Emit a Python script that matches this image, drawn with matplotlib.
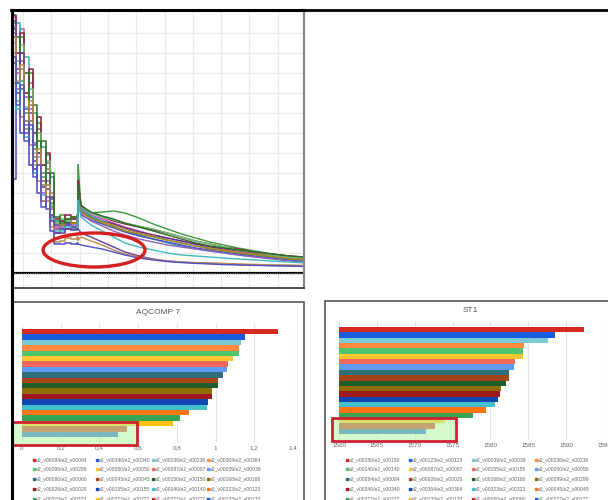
import matplotlib
matplotlib.use("Agg")
import matplotlib.pyplot as plt
from matplotlib.patches import Rectangle, Ellipse
from matplotlib.lines import Line2D

W, H = 608, 500

# ---- top panel: step / decay curves (grid units) ----
x_early = [-0.35, -0.25, -0.1, 0.05, 0.2, 0.35, 0.5, 0.65, 0.8, 0.95, 1.1, 1.3, 1.5, 1.7, 1.9]
x_late = [1.95, 2.05, 2.4, 2.8, 3.2, 3.6, 4.1, 4.6, 5.1, 5.6, 6.1, 6.6, 7.1, 7.6, 8.2, 8.8, 9.4, 9.96]

curve_colors = ['#3c9a3c', '#c050b0', '#5a2a8a', '#3aa8a0', '#c0803a', '#4a4ac0', '#8a2040',
                '#8a8a30', '#70c070', '#9060c0', '#2a6a2a', '#40b8c0', '#6a3a9a', '#c08a50', '#5050c8']
curves_early = [
    [12.5, 9.5, 11.8, 8.0, 10.0, 6.2, 7.5, 5.0, 5.9, 3.5, 2.6, 2.9, 2.5, 2.8, 2.6],
    [12.8, 10.0, 12.2, 8.8, 9.5, 6.5, 7.2, 4.6, 5.5, 3.2, 2.3, 2.6, 2.4, 2.7, 2.5],
    [12.2, 9.0, 11.0, 7.6, 8.8, 5.6, 6.6, 4.3, 5.0, 2.9, 2.4, 2.2, 2.5, 2.3, 2.6],
    [11.8, 12.5, 9.6, 10.8, 7.2, 8.0, 5.4, 6.3, 4.2, 4.8, 2.6, 2.4, 2.7, 2.5, 2.6],
    [9.5, 11.0, 7.8, 9.0, 6.4, 7.0, 4.6, 5.4, 3.6, 4.0, 2.2, 2.4, 2.2, 2.5, 2.3],
    [4.7, 9.5, 7.0, 8.2, 5.4, 6.4, 4.0, 4.8, 3.2, 3.7, 2.0, 2.2, 2.4, 2.2, 2.3],
    [12.9, 11.0, 12.0, 9.0, 10.2, 7.0, 7.8, 5.4, 6.0, 3.8, 2.7, 2.6, 2.9, 2.7, 2.8],
    [11.0, 8.6, 10.2, 7.2, 8.4, 5.8, 6.6, 4.4, 5.2, 3.3, 2.5, 2.4, 2.6, 2.5, 2.6],
    [12.3, 10.6, 11.4, 8.3, 9.2, 6.0, 7.0, 4.8, 5.6, 3.4, 2.5, 2.7, 2.6, 2.8, 2.7],
    [12.0, 9.2, 10.6, 7.4, 8.2, 5.2, 6.0, 4.0, 4.6, 2.8, 2.2, 2.3, 2.2, 2.4, 2.4],
    [10.5, 11.8, 9.2, 10.0, 7.6, 8.4, 6.0, 6.6, 4.4, 5.0, 2.8, 2.5, 2.7, 2.8, 2.9],
    [11.5, 8.2, 9.6, 6.8, 7.6, 5.0, 5.8, 3.9, 4.4, 2.7, 2.1, 2.1, 2.3, 2.2, 2.3],
    [12.6, 10.2, 11.0, 7.0, 8.0, 5.2, 6.0, 3.6, 4.2, 2.6, 2.0, 2.0, 2.2, 2.15, 2.2],
    [11.8, 9.6, 10.4, 7.6, 8.6, 5.4, 6.2, 3.6, 4.4, 2.3, 1.55, 1.6, 1.75, 1.7, 1.8],
    [10.8, 8.4, 9.4, 6.6, 7.4, 4.8, 5.4, 3.3, 3.8, 2.1, 1.45, 1.45, 1.5, 1.45, 1.5],
]
curves_late = [
    [5.4, 3.2, 3.0, 3.05, 3.1, 3.0, 2.75, 2.45, 2.2, 1.95, 1.75, 1.55, 1.4, 1.25, 1.1, 0.95, 0.85, 0.75],
    [4.5, 3.3, 2.9, 2.7, 2.5, 2.3, 2.1, 1.9, 1.75, 1.6, 1.45, 1.3, 1.2, 1.1, 1.0, 0.9, 0.8, 0.7],
    [4.0, 3.1, 2.8, 2.6, 2.45, 2.25, 2.05, 1.9, 1.75, 1.6, 1.45, 1.3, 1.2, 1.05, 0.95, 0.85, 0.75, 0.65],
    [4.2, 3.2, 2.85, 2.6, 2.35, 2.1, 1.9, 1.7, 1.5, 1.35, 1.2, 1.1, 1.0, 0.9, 0.8, 0.75, 0.65, 0.6],
    [3.9, 3.0, 2.75, 2.55, 2.4, 2.2, 2.0, 1.85, 1.65, 1.5, 1.35, 1.25, 1.15, 1.05, 0.95, 0.85, 0.75, 0.7],
    [3.7, 2.9, 2.65, 2.45, 2.25, 2.05, 1.85, 1.7, 1.55, 1.4, 1.25, 1.15, 1.05, 0.95, 0.85, 0.75, 0.65, 0.55],
    [4.6, 3.4, 3.0, 2.8, 2.6, 2.45, 2.3, 2.15, 2.0, 1.8, 1.6, 1.45, 1.3, 1.2, 1.05, 0.95, 0.85, 0.8],
    [4.1, 3.1, 2.75, 2.5, 2.3, 2.1, 1.95, 1.8, 1.65, 1.5, 1.35, 1.2, 1.1, 1.0, 0.9, 0.8, 0.7, 0.65],
    [4.3, 3.3, 3.0, 2.8, 2.65, 2.5, 2.35, 2.2, 2.0, 1.8, 1.6, 1.45, 1.3, 1.15, 1.05, 0.9, 0.8, 0.75],
    [3.8, 2.95, 2.6, 2.35, 2.1, 1.9, 1.7, 1.55, 1.4, 1.3, 1.2, 1.1, 1.0, 0.9, 0.8, 0.7, 0.6, 0.55],
    [4.4, 3.35, 3.05, 2.85, 2.7, 2.5, 2.3, 2.1, 1.9, 1.7, 1.5, 1.35, 1.25, 1.15, 1.05, 0.95, 0.85, 0.8],
    [3.6, 2.8, 2.4, 2.1, 1.8, 1.5, 1.3, 1.15, 1.0, 0.9, 0.85, 0.8, 0.75, 0.7, 0.65, 0.6, 0.55, 0.5],
    [2.2, 2.0, 1.8, 1.55, 1.3, 1.05, 0.85, 0.7, 0.6, 0.55, 0.5, 0.48, 0.45, 0.43, 0.4, 0.38, 0.36, 0.35],
    [1.65, 1.8, 1.6, 1.4, 1.15, 0.95, 0.8, 0.68, 0.6, 0.55, 0.52, 0.5, 0.48, 0.45, 0.43, 0.41, 0.4, 0.38],
    [1.45, 1.4, 1.3, 1.2, 1.05, 0.9, 0.75, 0.65, 0.57, 0.52, 0.48, 0.45, 0.42, 0.4, 0.38, 0.36, 0.35, 0.33],
]

# ---- bar panels ----
bar_colors = ['#d42a20', '#1a5ce0', '#7ccbd4', '#ff8a3d', '#4fc46c', '#ffc630', '#f0685c', '#5d9cf2',
              '#2e6e7c', '#a5461a', '#1f5e2a', '#8e6e00', '#a0191c', '#1346b0', '#45bfcc', '#ff7413',
              '#36a453', '#ffc208', '#d42a20', '#1a5ce0']

aq_values = [1.32, 1.15, 1.13, 1.12, 1.12, 1.09, 1.065, 1.06, 1.037, 1.012, 1.012, 0.983, 0.983,
             0.962, 0.954, 0.864, 0.816, 0.782, 0.541, 0.497]
aq_labels = ['e2_v00084/e2_v00084', 'e2_v00340/e2_v00340', 'e2_v00236/e2_v00236', 'e2_v00364/e2_v00364',
             'e2_v00299/e2_v00299', 'e2_v00050/e2_v00050', 'e2_v00087/e2_v00087', 'e2_v00039/e2_v00039',
             'e2_v00060/e2_v00060', 'e2_v00045/e2_v00045', 'e2_v00150/e2_v00150', 'e2_v00168/e2_v00168',
             'e2_v00026/e2_v00026', 'e2_v00155/e2_v00155', 'e2_v00140/e2_v00140', 'e2_v00123/e2_v00123',
             'e2_v00323/e2_v00323', 'e2_v00272/e2_v00272', 'e2_v00277/e2_v00277', 'e2_v00133/e2_v00133']
aq_ticks = [0, 0.2, 0.4, 0.6, 0.8, 1.0, 1.2, 1.4]
aq_ticklabels = ['0', '0,2', '0,4', '0,6', '0,8', '1', '1,2', '1,4']

st_values = [1592.3, 1588.5, 1587.6, 1584.4, 1584.25, 1584.25, 1583.2, 1583.05, 1582.4, 1582.4,
             1582.1, 1581.4, 1581.2, 1580.95, 1580.6, 1579.45, 1577.7, 1573.95, 1572.7, 1571.5]
st_labels = ['e2_v00150/e2_v00150', 'e2_v00123/e2_v00123', 'e2_v00039/e2_v00039', 'e2_v00236/e2_v00236',
             'e2_v00140/e2_v00140', 'e2_v00087/e2_v00087', 'e2_v00155/e2_v00155', 'e2_v00050/e2_v00050',
             'e2_v00084/e2_v00084', 'e2_v00026/e2_v00026', 'e2_v00168/e2_v00168', 'e2_v00299/e2_v00299',
             'e2_v00340/e2_v00340', 'e2_v00364/e2_v00364', 'e2_v00323/e2_v00323', 'e2_v00045/e2_v00045',
             'e2_v00272/e2_v00272', 'e2_v00133/e2_v00133', 'e2_v00060/e2_v00060', 'e2_v00277/e2_v00277']
st_ticks = [1560, 1565, 1570, 1575, 1580, 1585, 1590, 1595]


def fx(px):
    return px / W


def fy(py):
    return 1 - py / H


def box(left, top, right, bottom):
    return [fx(left), fy(bottom), (right - left) / W, (bottom - top) / H]


plt.rcParams['font.family'] = ['Liberation Sans', 'DejaVu Sans']
fig = plt.figure(figsize=(W / 100, H / 100), dpi=100)

# top line chart
ax = fig.add_axes(box(12, 10, 304, 288))
ax.set_xlim(-0.39, 9.93)
ax.set_ylim(-0.75, 13.15)
ax.set_xticks(range(0, 10))
ax.set_yticks(range(1, 13))
ax.grid(True, color='#ebebeb', lw=1)
ax.tick_params(length=0, labelbottom=False, labelleft=False)
for i in range(len(curves_early)):
    ax.plot(x_early + [x_late[0]], curves_early[i] + [curves_late[i][0]],
            drawstyle='steps-post', color=curve_colors[i], lw=1.1)
    ax.plot(x_late, curves_late[i], color=curve_colors[i], lw=1.0)
ax.axhline(0, color='black', lw=1.6)
ax.axhline(0, color='#777777', lw=0.8, ls=(0, (1, 1)))
ax.add_patch(Ellipse((2.51, 1.15), 3.6, 1.7, fill=False, ec='#d42020', lw=2.4, zorder=5))
ax.spines['left'].set(color='black', lw=2.2)
ax.spines['top'].set(color='black', lw=2.2)
ax.spines['right'].set(color='#888888', lw=1.6)
ax.spines['bottom'].set(color='#333333', lw=1.2)

# outer lines
fig.add_artist(Line2D([fx(11), 1], [fy(10), fy(10)], color='black', lw=2))
fig.add_artist(Line2D([fx(11.5), fx(11.5)], [fy(10), 0], color='black', lw=2.2))

# panel frames
fig.add_artist(Rectangle((fx(12), fy(510)), (304 - 12) / W, (510 - 302) / H,
                         transform=fig.transFigure, fill=False, ec='#555555', lw=1.2))
fig.add_artist(Rectangle((fx(325), fy(510)), (620 - 325) / W, (510 - 301) / H,
                         transform=fig.transFigure, fill=False, ec='#555555', lw=1.2))


def bar_panel(rect, values, ticks, ticklabels, xlim):
    bx = fig.add_axes(rect)
    bx.barh(range(len(values)), [v - xlim[0] for v in values], left=xlim[0], height=1.0,
            color=bar_colors, zorder=2)
    bx.set_xlim(*xlim)
    bx.set_ylim(20.6, -1.43)
    bx.set_xticks(ticks)
    bx.set_xticklabels(ticklabels)
    bx.set_yticks([])
    bx.grid(True, axis='x', color='#e4e4e4', lw=0.8, zorder=0)
    bx.tick_params(axis='x', length=0, labelsize=4.5, labelcolor='#666666', pad=2)
    for s in bx.spines.values():
        s.set_visible(False)
    return bx


bar_panel(box(22, 324, 293, 443), aq_values, aq_ticks, aq_ticklabels, (0, 1.4))
bar_panel(box(339, 322, 604, 440), st_values, st_ticks, [str(t) for t in st_ticks], (1560, 1595))

fig.text(fx(158), fy(312), 'AQCOMP 7', ha='center', va='center', fontsize=6, color='#555555')
fig.text(fx(470), fy(311), 'ST1', ha='center', va='center', fontsize=6, color='#555555')

# highlight boxes
fig.add_artist(Rectangle((fx(12), fy(445)), (137 - 12) / W, (445 - 422) / H, transform=fig.transFigure,
                         fc='#b8f5a8', alpha=0.6, ec='none'))
fig.add_artist(Rectangle((fx(12), fy(445)), (137 - 12) / W, (445 - 422) / H, transform=fig.transFigure,
                         fill=False, ec='#d02030', lw=2))
fig.add_artist(Rectangle((fx(332), fy(441)), (456 - 332) / W, (441 - 418) / H, transform=fig.transFigure,
                         fc='#b8f5a8', alpha=0.6, ec='none'))
fig.add_artist(Rectangle((fx(332), fy(441)), (456 - 332) / W, (441 - 418) / H, transform=fig.transFigure,
                         fill=False, ec='#d02030', lw=2))


def legend(labels, col_x, row_y):
    for k, lab in enumerate(labels):
        px = col_x[k % 4]
        py = row_y[k // 4]
        fig.add_artist(Line2D([fx(px)], [fy(py)], marker='s', markersize=1.6, color=bar_colors[k], lw=0))
        fig.text(fx(px + 2), fy(py), lab, ha='left', va='center', fontsize=3.6, color='#666666')


legend(aq_labels, [34, 97, 153, 208], [460, 469, 479, 489, 499])
legend(st_labels, [347, 410, 473, 536], [460, 469, 479, 489, 499])

fig.savefig('out.png', dpi=100)
